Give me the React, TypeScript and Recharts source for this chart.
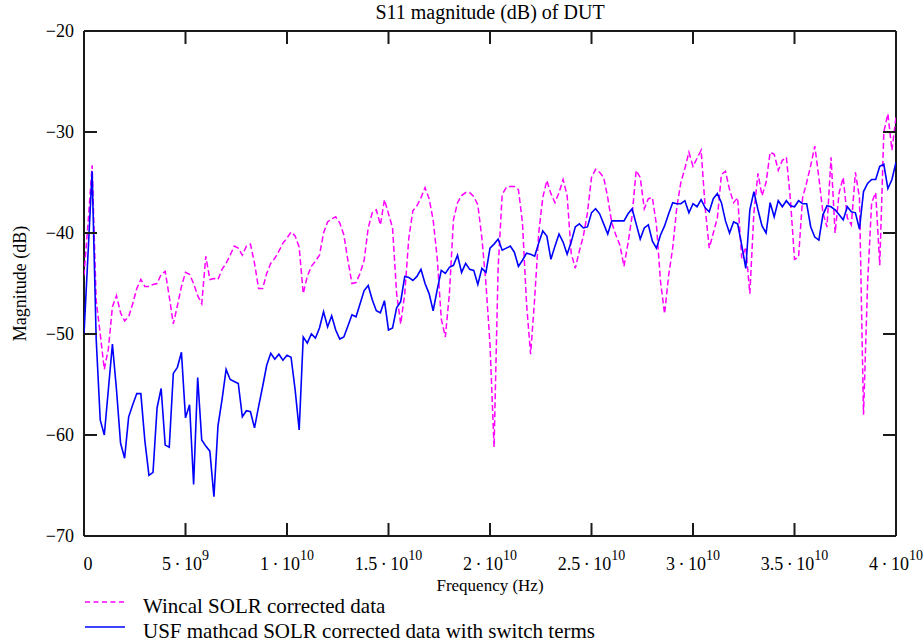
import React from 'react';
import { LineChart, Line, XAxis, YAxis, ReferenceLine } from 'recharts';

// plot box in page pixels
const PLOT = { left: 84, right: 896, top: 31, bottom: 536 };
const CHART_W = 924;
const CHART_H = 643;
const AXIS_SIZE = 1;
const TICK_LEN = 13;
const FRAME = '#1a1a1a';
const FONT = '"Liberation Serif", "Times New Roman", serif';

// sample spacing of both sweeps (Hz)
const FREQ_STEP_HZ = 0.2e9;

const xTicks = [0, 5e9, 1e10, 1.5e10, 2e10, 2.5e10, 3e10, 3.5e10, 4e10];
const yTicks = [-70, -60, -50, -40, -30, -20];

// Wincal SOLR corrected data, S11 in dB
const wincalDb = [
  -44.2, -39.0, -33.3, -46.7, -50.0, -53.5, -51.5, -47.3, -46.2, -47.9,
  -48.7, -48.3, -47.0, -45.5, -44.6, -45.3, -45.3, -45.1, -45.0, -44.1,
  -43.8, -46.3, -49.0, -47.2, -45.3, -43.9, -44.1, -45.0, -46.2, -47.0,
  -42.3, -44.6, -44.5, -44.6, -43.6, -43.0, -42.2, -41.3, -41.5, -42.2,
  -41.3, -41.1, -43.0, -45.5, -45.5, -44.0, -43.0, -42.5, -41.8, -41.0,
  -40.5, -39.9, -40.3, -41.4, -46.0, -44.3, -43.3, -42.8, -42.2, -40.0,
  -38.9, -38.6, -38.4, -39.0, -40.2, -42.7, -45.0, -44.9, -44.0, -42.7,
  -39.5, -38.0, -37.7, -39.2, -36.7, -38.1, -39.5, -46.0, -49.0, -46.0,
  -40.5, -37.8, -37.3, -36.5, -35.5, -36.6, -38.7, -42.5, -48.5, -50.3,
  -46.0, -38.7, -37.0, -36.3, -36.0, -36.0, -36.4, -37.2, -40.5, -45.0,
  -51.0, -61.2, -43.5, -36.2, -35.5, -35.4, -35.4, -35.7, -39.0, -47.0,
  -52.0, -46.5, -40.0, -36.5, -34.8, -36.1, -37.0, -36.0, -34.7, -36.3,
  -42.0, -43.5, -41.8, -40.3, -38.0, -34.5, -33.7, -34.0, -34.5, -36.5,
  -39.0, -40.2, -41.2, -43.3, -41.0, -38.3, -33.8, -34.5, -37.6, -36.6,
  -36.5, -39.2, -44.8, -48.0, -44.2, -41.5, -37.5, -35.0, -33.6, -32.0,
  -33.4, -32.6, -31.8, -37.5, -41.5, -40.0, -38.5, -34.2, -33.9, -35.7,
  -37.0, -36.5, -42.5, -41.4, -46.0, -38.0, -34.1, -36.3, -35.0, -32.0,
  -32.2, -33.8, -32.8, -32.5, -36.7, -42.6, -42.4, -36.5, -35.0, -33.3,
  -31.4, -34.5, -38.0, -39.4, -32.5, -40.0, -36.0, -34.5, -38.5, -39.2,
  -34.0, -36.5, -58.0, -45.0, -37.0, -36.0, -43.2, -30.0, -28.2, -31.8,
  -28.5,
];

// USF mathcad SOLR corrected data with switch terms, S11 in dB
const usfDb = [
  -50.0, -42.0, -33.9, -50.5, -58.5, -60.0, -55.5, -51.0, -55.5, -60.8,
  -62.3, -58.2, -57.0, -55.9, -55.9, -60.6, -64.0, -63.7, -57.3, -55.4,
  -61.0, -61.2, -53.9, -53.3, -51.8, -58.3, -57.0, -64.9, -54.3, -60.5,
  -61.1, -61.6, -66.1, -59.1, -56.5, -53.5, -54.5, -54.7, -54.9, -58.2,
  -57.6, -57.7, -59.3, -57.2, -55.2, -53.1, -51.9, -52.5, -52.0, -52.6,
  -52.1, -52.3, -55.5, -59.5, -50.3, -50.9, -50.0, -50.4, -49.4, -47.8,
  -49.3, -48.2, -49.6, -50.5, -50.3, -49.2, -48.1, -48.3, -47.0, -45.7,
  -45.2, -46.6, -47.7, -47.9, -46.7, -49.6, -49.4, -47.4, -46.8, -44.3,
  -44.4, -44.7, -44.3, -43.6, -45.0, -46.0, -47.7, -45.6, -43.7, -44.0,
  -43.4, -43.2, -42.2, -43.9, -43.0, -43.6, -43.7, -45.1, -43.5, -43.9,
  -41.5, -41.1, -40.6, -41.7, -41.5, -41.3, -41.9, -43.3, -42.7, -42.0,
  -42.1, -42.3, -41.0, -39.8, -40.3, -42.6, -41.3, -40.1, -40.9, -42.1,
  -40.9, -39.4, -39.1, -39.5, -39.4, -38.0, -37.6, -38.1, -39.1, -40.1,
  -38.8, -38.8, -38.8, -38.8, -38.1, -37.6, -39.1, -40.6, -39.5, -39.2,
  -40.8, -41.5, -40.2, -39.3, -38.1, -37.0, -37.1, -37.1, -36.8, -38.0,
  -37.1, -37.4, -36.7, -37.5, -37.9, -36.6, -36.1, -37.0, -38.8, -40.0,
  -38.9, -39.1, -41.2, -43.5, -37.7, -35.9, -37.7, -39.3, -40.0, -37.0,
  -38.4, -36.8, -37.4, -36.8, -37.3, -37.4, -36.8, -37.1, -37.1, -39.4,
  -40.4, -40.7, -38.2, -37.3, -37.4, -37.7, -38.2, -38.7, -37.4, -37.9,
  -38.0, -39.6, -35.9, -35.1, -34.7, -34.7, -33.4, -33.2, -35.6, -34.7,
  -33.0,
];

const chartData = wincalDb.map((w, i) => ({
  freq: i * FREQ_STEP_HZ,
  wincal: w,
  usf: usfDb[i],
}));

// 5e9 -> ['5·10', '9']
const splitSci = (v: number): [string, string] | null => {
  if (v === 0) return null;
  const exp = Math.floor(Math.log10(v) + 1e-9);
  const mant = +(v / Math.pow(10, exp)).toFixed(2);
  return [`${mant}\u2009·\u200910`, String(exp)];
};

const XTick = (props: any) => {
  const { x, payload } = props;
  const parts = splitSci(payload.value);
  return (
    <g>
      <line x1={x} x2={x} y1={PLOT.bottom} y2={PLOT.bottom - TICK_LEN} stroke={FRAME} strokeWidth={2} />
      <line x1={x} x2={x} y1={PLOT.top} y2={PLOT.top + TICK_LEN} stroke={FRAME} strokeWidth={2} />
      <text
        x={parts ? x : x + 4}
        y={PLOT.bottom + 34}
        textAnchor="middle"
        fontSize={18}
        fontFamily={FONT}
        fill="#000"
      >
        {parts ? (
          <>
            <tspan>{parts[0]}</tspan>
            <tspan dy={-10} fontSize={14}>{parts[1]}</tspan>
          </>
        ) : (
          '0'
        )}
      </text>
    </g>
  );
};

const YTick = (props: any) => {
  const { y, payload } = props;
  const label = payload.value < 0 ? `\u2212${Math.abs(payload.value)}` : String(payload.value);
  return (
    <g>
      <line x1={PLOT.left} x2={PLOT.left + TICK_LEN} y1={y} y2={y} stroke={FRAME} strokeWidth={2} />
      <line x1={PLOT.right - TICK_LEN} x2={PLOT.right} y1={y} y2={y} stroke={FRAME} strokeWidth={2} />
      <text x={PLOT.left - 10} y={y} dy={6} textAnchor="end" fontSize={18} fontFamily={FONT} fill="#000">
        {label}
      </text>
    </g>
  );
};

const App = () => {
  const plotMidX = (PLOT.left + PLOT.right) / 2;
  const plotMidY = (PLOT.top + PLOT.bottom) / 2;

  return (
    <div
      style={{
        position: 'absolute',
        left: 0,
        top: 0,
        width: CHART_W,
        height: CHART_H,
        background: '#fff',
      }}
    >
      <LineChart
        width={CHART_W}
        height={CHART_H}
        data={chartData}
        margin={{
          top: PLOT.top,
          right: CHART_W - PLOT.right,
          bottom: CHART_H - PLOT.bottom - AXIS_SIZE,
          left: PLOT.left - AXIS_SIZE,
        }}
      >
        <XAxis
          dataKey="freq"
          type="number"
          domain={[0, 4e10]}
          ticks={xTicks}
          interval={0}
          height={AXIS_SIZE}
          tickLine={false}
          tick={XTick}
          axisLine={false}
          allowDataOverflow
        />
        <YAxis
          type="number"
          domain={[-70, -20]}
          ticks={yTicks}
          interval={0}
          width={AXIS_SIZE}
          tickLine={false}
          tick={YTick}
          axisLine={false}
          allowDataOverflow
        />
        {/* plot frame */}
        <ReferenceLine y={-20} stroke={FRAME} strokeWidth={2} />
        <ReferenceLine y={-70} stroke={FRAME} strokeWidth={2} />
        <ReferenceLine x={0} stroke={FRAME} strokeWidth={2} />
        <ReferenceLine x={4e10} stroke={FRAME} strokeWidth={2} />
        <Line
          type="linear"
          dataKey="wincal"
          name="Wincal SOLR corrected data"
          stroke="#FF00FF"
          strokeWidth={1.5}
          strokeDasharray="6 3"
          dot={false}
          isAnimationActive={false}
        />
        <Line
          type="linear"
          dataKey="usf"
          name="USF mathcad SOLR corrected data with switch terms"
          stroke="#0000FF"
          strokeWidth={1.6}
          dot={false}
          isAnimationActive={false}
        />
      </LineChart>

      {/* Title, axis titles and legend */}
      <svg
        width={CHART_W}
        height={CHART_H}
        style={{ position: 'absolute', left: 0, top: 0, pointerEvents: 'none' }}
        fontFamily={FONT}
      >
        <text x={plotMidX} y={19} textAnchor="middle" fontSize={20} fill="#000">
          S11 magnitude (dB) of DUT
        </text>
        <text x={plotMidX} y={591} textAnchor="middle" fontSize={17} fill="#000">
          Frequency (Hz)
        </text>
        <text
          x={0}
          y={0}
          transform={`translate(26, ${plotMidY}) rotate(-90)`}
          textAnchor="middle"
          fontSize={18}
          fill="#000"
        >
          Magnitude (dB)
        </text>

        <line x1={85} x2={125} y1={602} y2={602} stroke="#FF00FF" strokeWidth={1.5} strokeDasharray="5 3.5" />
        <text x={143} y={613} fontSize={21} fill="#000">
          Wincal SOLR corrected data
        </text>
        <line x1={85} x2={125} y1={627} y2={627} stroke="#0000FF" strokeWidth={1.6} />
        <text x={143} y={638} fontSize={21} fill="#000">
          USF mathcad SOLR corrected data with switch terms
        </text>
      </svg>
    </div>
  );
};

export default App;
